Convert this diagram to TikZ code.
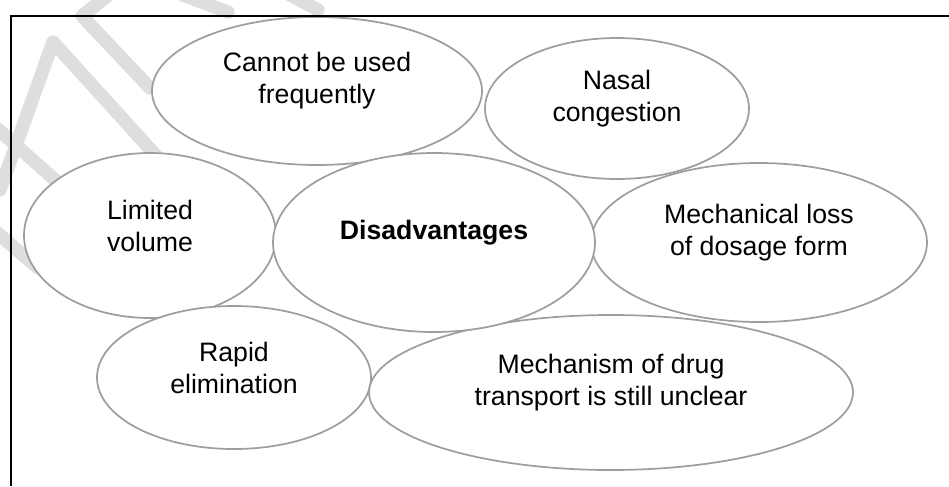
\documentclass[tikz,border=0pt]{standalone}
\usepackage{fontspec}
\setmainfont{Liberation Sans}
\usepackage{tikz}
\usetikzlibrary{shapes.geometric, positioning}

\begin{document}
\begin{tikzpicture}[
  x=0.75pt, y=-0.75pt,
  bubble/.style={ellipse, draw=black!38, line width=1.3pt, fill=white, inner sep=0pt},
  bubtext/.style={font=\fontsize{20}{24}\selectfont, align=center, inner sep=0pt},
  watermark/.style={line width=10pt, black!13, line cap=round, line join=round}
]
\useasboundingbox (0,0) rectangle (949,486);

% Faint watermark strokes (top left)
\begin{scope}
\clip (0,0) rectangle (949,486);
\draw[watermark] (0,190) -- (53,42) -- (160,160);
\draw[watermark] (150,88) -- (82,16) -- (110,-6);
\draw[watermark] (175,-8) -- (228,12);
\draw[watermark] (285,-8) -- (318,10);
\draw[watermark] (-10,122) -- (55,180);
\draw[watermark] (-6,230) -- (38,268);
\end{scope}

% Bubbles
\node[bubble, minimum width=247.5pt, minimum height=111pt] (cannot) at (317,91) {};
\node[bubble, minimum width=198pt, minimum height=105.75pt] (nasal) at (617,108.5) {};
\node[bubble, minimum width=189pt, minimum height=123.75pt] (limited) at (150,235.5) {};
\node[bubble, minimum width=252pt, minimum height=119.25pt] (mechloss) at (759,242.5) {};
\node[bubble, minimum width=205.5pt, minimum height=107.25pt] (rapid) at (234,377.5) {};
\node[bubble, minimum width=363pt, minimum height=116.25pt] (unclear) at (611,392.5) {};
\node[bubble, minimum width=241.5pt, minimum height=134.25pt] (disadv) at (434,242.5) {};

% Texts, set a little above each centre
\node[bubtext] (cannottxt) at ([yshift=7.5pt]cannot.center) {Cannot be used\\frequently};
\node[bubtext] (nasaltxt) at ([yshift=7.5pt]nasal.center) {Nasal\\congestion};
\node[bubtext] (limitedtxt) at ([yshift=7.5pt]limited.center) {Limited\\volume};
\node[bubtext, font=\fontsize{20}{24}\selectfont\bfseries] (disadvtxt) at ([yshift=7.5pt]disadv.center) {Disadvantages};
\node[bubtext] (mechlosstxt) at ([yshift=7.5pt]mechloss.center) {Mechanical loss\\of dosage form};
\node[bubtext] (rapidtxt) at ([yshift=7.5pt]rapid.center) {Rapid\\elimination};
\node[bubtext] (uncleartxt) at ([yshift=7.5pt]unclear.center) {Mechanism of drug\\transport is still unclear};

% Frame
\draw[line width=1.4pt] (949,16) -- (11,16) -- (11,486);
\end{tikzpicture}
\end{document}
